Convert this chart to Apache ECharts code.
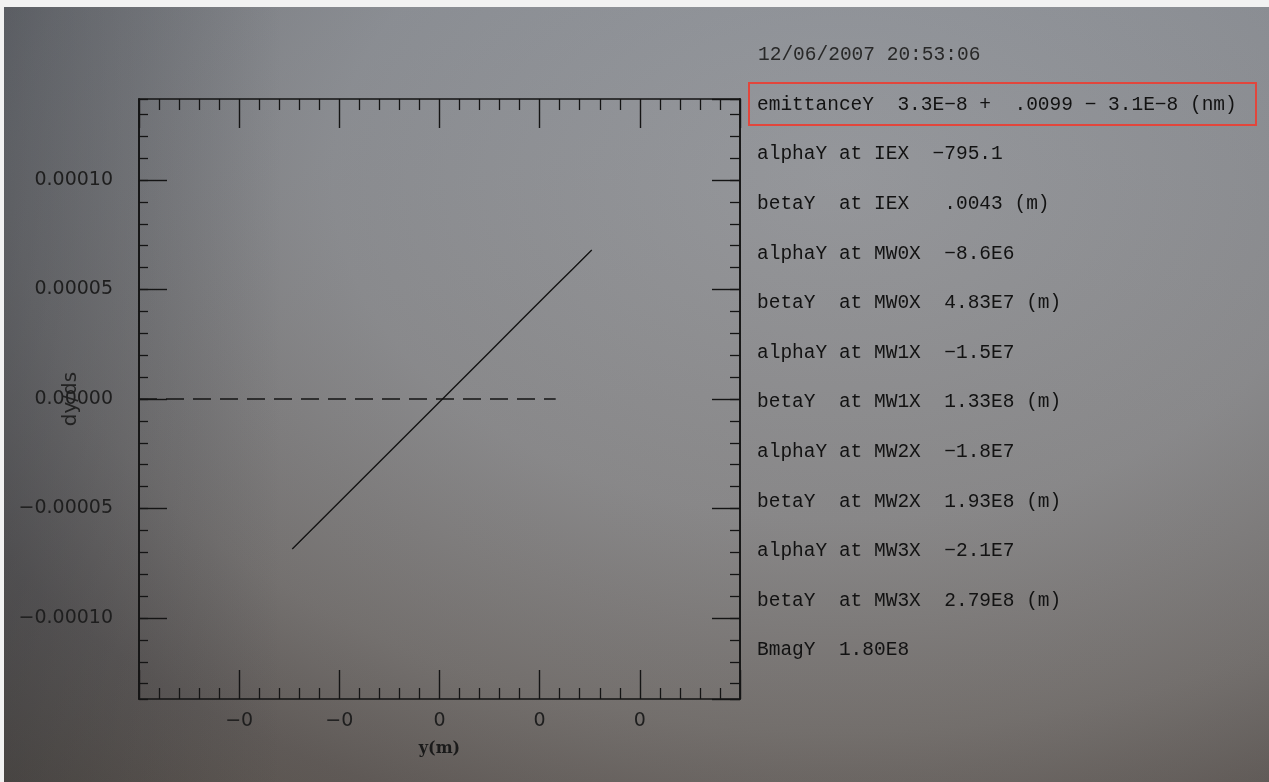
<!DOCTYPE html>
<html>
<head>
<meta charset="utf-8">
<script src="https://cdn.jsdelivr.net/npm/echarts@6/dist/echarts.min.js"></script>
<style>
  html, body { margin: 0; padding: 0; width: 1269px; height: 782px; overflow: hidden; background: #f2f2f2; }
  #paper {
    position: absolute; left: 4px; top: 7px; right: 0; bottom: 0;
    background:
      linear-gradient(to right, rgba(35,42,52,0.28) 0%, rgba(35,42,52,0.0) 22%),
      linear-gradient(to bottom, rgba(140,150,165,0.14), rgba(120,90,60,0.16)),
      radial-gradient(ellipse 100% 110% at 66% 22%, #97999d 0%, #8a8c90 40%, #727274 65%, #5a595b 80%, #4d4a47 100%);
  }
  #chart { position: absolute; left: 0; top: 0; width: 1269px; height: 782px; }
</style>
</head>
<body>
<div id="paper"></div>
<div id="chart"></div>
<script>
// Phase-space trace: position y (m) against slope dy/ds
const yPos = [-1.47e-4, -1.10e-4, -0.77e-4, -0.47e-4, -0.13e-4, 0.17e-4, 0.50e-4, 0.83e-4, 1.13e-4, 1.33e-4, 1.52e-4];
const dyds = [-6.85e-5, -5.16e-5, -3.65e-5, -2.28e-5, -0.73e-5, 0.64e-5, 2.15e-5, 3.66e-5, 5.03e-5, 5.94e-5, 6.80e-5];

// Zero-slope reference line (dashed)
const refPos = [-3e-4, 1.16e-4];
const refDyds = [0, 0];

// Axis ranges
const xRange = [-3e-4, 3e-4];
const xStep = 1e-4;
const yRange = [-1.37e-4, 1.37e-4];

// Fit results printed beside the plot
const stampLine = '12/06/2007 20:53:06';
const fitLines = [
  'emittanceY  3.3E\u22128 +  .0099 \u2212 3.1E\u22128 (nm)',
  'alphaY at IEX  \u2212795.1',
  'betaY  at IEX   .0043 (m)',
  'alphaY at MW0X  \u22128.6E6',
  'betaY  at MW0X  4.83E7 (m)',
  'alphaY at MW1X  \u22121.5E7',
  'betaY  at MW1X  1.33E8 (m)',
  'alphaY at MW2X  \u22121.8E7',
  'betaY  at MW2X  1.93E8 (m)',
  'alphaY at MW3X  \u22122.1E7',
  'betaY  at MW3X  2.79E8 (m)',
  'BmagY  1.80E8'
];

const ink = '#141414';
const tickFont = { color: '#1e1e1e', fontFamily: 'DejaVu Sans', fontSize: 19 };
const lineFont = '19.5px "Liberation Mono"';

const grid = { left: 139, top: 99, width: 601, height: 600 };

function frameAxis(extra) {
  return Object.assign({
    type: 'value',
    axisLine: { show: true, onZero: false, lineStyle: { color: ink, width: 1.6 } },
    splitLine: { show: false },
    axisLabel: { show: false }
  }, extra);
}

const xMajor = {
  min: xRange[0], max: xRange[1], interval: xStep,
  axisTick: { show: true, inside: true, length: 29, lineStyle: { color: ink, width: 1.4 } },
  minorTick: { show: true, splitNumber: 5, length: 11, lineStyle: { color: ink, width: 1.3 } }
};

const xAxis = [
  frameAxis(Object.assign({}, xMajor, {
    position: 'bottom',
    axisLabel: Object.assign({
      show: true, margin: 13, showMinLabel: false, showMaxLabel: false,
      formatter: v => v.toFixed(0).replace('-', '\u2212')
    }, tickFont),
    name: 'y(m)', nameLocation: 'middle', nameGap: 42, nameMoveOverlap: false,
    nameTextStyle: { color: '#1a1a1a', fontFamily: 'DejaVu Serif', fontWeight: 'bold', fontSize: 16 }
  })),
  frameAxis(Object.assign({}, xMajor, { position: 'top' }))
];

function yAxisPair(side, minorLen, withLabels) {
  const major = frameAxis({
    position: side, min: yRange[0], max: yRange[1], splitNumber: 5,
    axisTick: { show: true, inside: true, length: 28, lineStyle: { color: ink, width: 1.4 } }
  });
  const minor = frameAxis({
    position: side, min: yRange[0], max: yRange[1], splitNumber: 27,
    axisTick: { show: true, inside: true, length: minorLen, lineStyle: { color: ink, width: 1.3 } }
  });
  if (withLabels) {
    major.axisLabel = Object.assign({
      show: true, margin: 26, showMinLabel: false, showMaxLabel: false,
      formatter: v => v.toFixed(5).replace('-', '\u2212')
    }, tickFont);
    major.name = 'dy/ds';
    major.nameLocation = 'middle';
    major.nameGap = 58;
    major.nameMoveOverlap = false;
    major.nameTextStyle = { color: '#222222', fontFamily: 'DejaVu Sans', fontSize: 20 };
  }
  return [major, minor];
}

const yAxis = yAxisPair('left', 9, true).concat(yAxisPair('right', 10, false));

// Text block on the right
const textLeft = 757, textTop = 55, textGap = 49.6;
const graphic = [
  {
    type: 'text', x: textLeft + 1, y: textTop, z: 10,
    style: { text: stampLine, font: lineFont, fill: '#282828', verticalAlign: 'middle' }
  }
].concat(fitLines.map((t, i) => ({
  type: 'text', x: textLeft, y: textTop + textGap * (i + 1), z: 10,
  style: { text: t, font: lineFont, fill: '#121212', verticalAlign: 'middle' }
}))).concat([
  {
    type: 'rect', z: 11,
    shape: { x: 749, y: 83, width: 507, height: 42 },
    style: { fill: 'none', stroke: '#e2463c', lineWidth: 2 }
  }
]);

const chart = echarts.init(document.getElementById('chart'), null, { renderer: 'canvas' });
chart.setOption({
  backgroundColor: 'transparent',
  animation: false,
  grid: grid,
  xAxis: xAxis,
  yAxis: yAxis,
  graphic: graphic,
  series: [
    {
      type: 'line', xAxisIndex: 0, yAxisIndex: 0,
      data: refPos.map((v, i) => [v, refDyds[i]]),
      symbol: 'none',
      lineStyle: { color: ink, width: 1.5, type: [18, 9] }
    },
    {
      type: 'line', xAxisIndex: 0, yAxisIndex: 0,
      data: yPos.map((v, i) => [v, dyds[i]]),
      symbol: 'none',
      lineStyle: { color: ink, width: 1.4 }
    }
  ]
});
</script>
</body>
</html>
